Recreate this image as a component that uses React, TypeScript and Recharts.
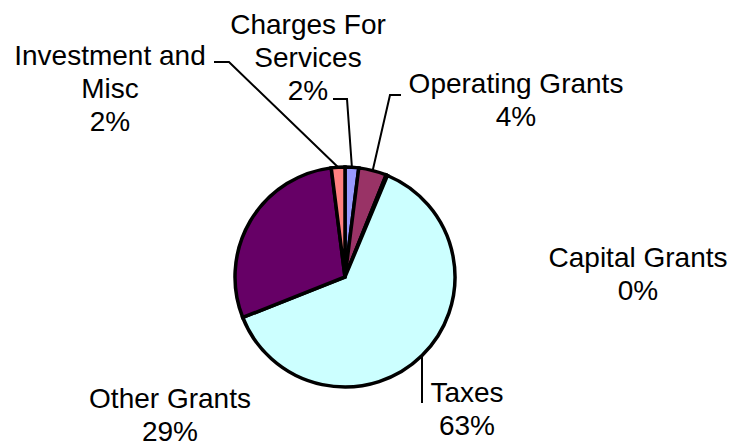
import React from "react";
import { PieChart, Pie, Cell } from "recharts";

const categories = [
  "Charges For Services",
  "Operating Grants",
  "Capital Grants",
  "Taxes",
  "Other Grants",
  "Investment and Misc",
];
const values = [2.0, 4.1, 0.2, 62.7, 29.0, 2.0];
const labelLines: string[][] = [
  ["Charges For", "Services"],
  ["Operating Grants"],
  ["Capital Grants"],
  ["Taxes"],
  ["Other Grants"],
  ["Investment and", "Misc"],
];
const colors = ["#9999FF", "#993366", "#FFFFCC", "#CCFFFF", "#660066", "#FF8080"];

// label layout: text centre x, first baseline y, leader polyline points (from text to elbow)
const labelLayout: { x: number; y: number; leader: number[][] }[] = [
  { x: 308, y: 34, leader: [[333, 99], [347, 99]] },
  { x: 516, y: 93, leader: [[401, 95], [390, 95]] },
  { x: 638, y: 267, leader: [] },
  { x: 467, y: 402, leader: [[422, 403]] },
  { x: 170, y: 408, leader: [] },
  { x: 110, y: 65, leader: [[214, 62], [229, 62]] },
];

const data = categories.map((name, i) => ({ name, value: values[i] }));

const RAD = Math.PI / 180;
const FONT = "'Liberation Sans', Arial, sans-serif";

const renderLabel = (props: any) => {
  const { cx, cy, midAngle, outerRadius, percent, index } = props;
  const lay = labelLayout[index];
  const lines = [...labelLines[index], `${Math.round(percent * 100)}%`];
  const sx = cx + outerRadius * Math.cos(-midAngle * RAD);
  const sy = cy + outerRadius * Math.sin(-midAngle * RAD);
  let path: string | null = null;
  if (lay.leader.length) {
    const pts = [...lay.leader, [index === 3 ? lay.leader[0][0] : sx, sy]];
    path = "M" + pts.map((p) => `${p[0]},${p[1]}`).join(" L");
  }
  return (
    <g key={`lbl-${index}`}>
      {path && <path d={path} stroke="#000" strokeWidth={2} fill="none" />}
      <text
        x={lay.x}
        y={lay.y}
        textAnchor="middle"
        fontFamily={FONT}
        fontSize={28}
        fill="#000"
      >
        {lines.map((l, i) => (
          <tspan key={i} x={lay.x} dy={i === 0 ? 0 : 33}>
            {l}
          </tspan>
        ))}
      </text>
    </g>
  );
};

export default function App() {
  return (
    <div style={{ position: "absolute", left: 0, top: 0, background: "#fff" }}>
      <PieChart width={736} height={446} margin={{ top: 0, right: 0, bottom: 0, left: 0 }}>
        <Pie
          data={data}
          dataKey="value"
          nameKey="name"
          cx={345}
          cy={277}
          outerRadius={110}
          startAngle={90}
          endAngle={-270}
          stroke="#000"
          strokeWidth={3.5}
          label={renderLabel}
          labelLine={false}
          isAnimationActive={false}
        >
          {data.map((d, i) => (
            <Cell key={d.name} fill={colors[i]} stroke="#000" strokeWidth={3.5} />
          ))}
        </Pie>
      </PieChart>
    </div>
  );
}
